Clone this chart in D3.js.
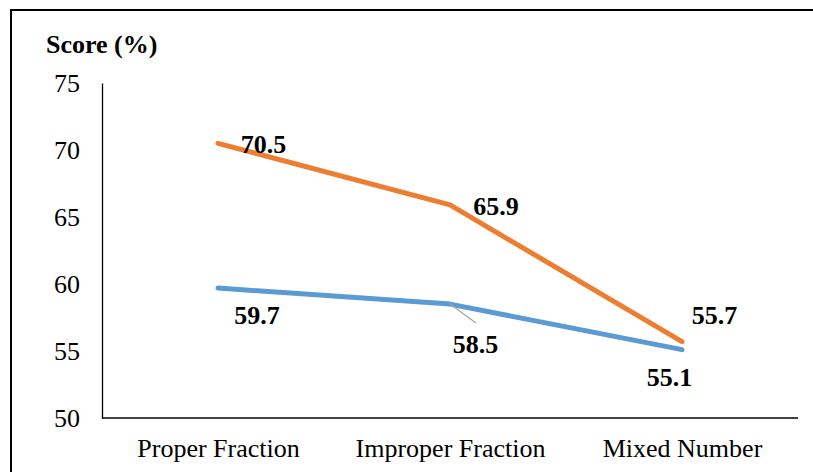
<!DOCTYPE html>
<html><head><meta charset="utf-8">
<script src="https://cdn.jsdelivr.net/npm/d3@7"></script>
<style>body{margin:0;background:#fff}svg{display:block}</style>
</head><body>
<svg id="c" width="813" height="472"></svg>
<script>
const categories = ["Proper Fraction", "Improper Fraction", "Mixed Number"];
const orangeValues = [70.5, 65.9, 55.7];
const blueValues = [59.7, 58.5, 55.1];
const yTicks = [50, 55, 60, 65, 70, 75];

(function () {
const FONT = "'Liberation Serif', Tinos, 'Times New Roman', Times, 'DejaVu Serif', serif";
const svg = d3.select("#c").style("font-family", FONT);
const mLeft = 102, mRight = 798, mTop = 83, mBottom = 418;
const x = d3.scalePoint().domain(categories).range([mLeft, mRight]).padding(0.5);
const y = d3.scaleLinear().domain([50, 75]).range([mBottom, mTop]);

svg.append("rect").attr("x", 11).attr("y", 10).attr("width", 820).attr("height", 480)
  .attr("fill", "none").attr("stroke", "#000").attr("stroke-width", 2);

svg.append("text").attr("x", 46).attr("y", 53).attr("font-size", 26).attr("font-weight", "bold")
  .style("font-family", FONT).text("Score (%)");

const ya = svg.append("g").attr("transform", `translate(${mLeft},0)`)
  .call(d3.axisLeft(y).tickValues(yTicks).tickSize(0).tickPadding(22));
ya.attr("font-family", null);
ya.select(".domain").attr("stroke", "#000").attr("stroke-width", 1.3);
ya.selectAll("text").attr("font-size", 26).attr("fill", "#000").style("font-family", FONT);

const xa = svg.append("g").attr("transform", `translate(0,${mBottom})`)
  .call(d3.axisBottom(x).tickSize(0).tickPadding(21));
xa.attr("font-family", null);
xa.select(".domain").attr("d", `M${mLeft},0H${mRight}`).attr("stroke", "#000").attr("stroke-width", 1.3);
xa.selectAll("text").attr("font-size", 26).attr("fill", "#000").style("font-family", FONT);

const line = d3.line().x((d, i) => x(categories[i])).y(d => y(d));
svg.append("path").datum(blueValues).attr("d", line).attr("fill", "none")
  .attr("stroke", "#5B9BD5").attr("stroke-width", 5).attr("stroke-linecap", "round").attr("stroke-linejoin", "round");
svg.append("path").datum(orangeValues).attr("d", line).attr("fill", "none")
  .attr("stroke", "#ED7D31").attr("stroke-width", 5).attr("stroke-linecap", "round").attr("stroke-linejoin", "round");

svg.append("line").attr("x1", x(categories[1])).attr("y1", y(blueValues[1]))
  .attr("x2", x(categories[1]) + 26).attr("y2", y(blueValues[1]) + 19)
  .attr("stroke", "#A5A5A5").attr("stroke-width", 1.3);

const orangeOff = [[45.5, 10], [46, 10], [32.5, -17.5]];
const blueOff = [[39, 36], [25.5, 49], [-12.5, 36.3]];
function labels(vals, offs) {
  svg.append("g").selectAll("text").data(vals).join("text")
    .attr("x", (d, i) => x(categories[i]) + offs[i][0])
    .attr("y", (d, i) => y(d) + offs[i][1])
    .attr("text-anchor", "middle")
    .attr("font-size", 26).attr("font-weight", "bold").attr("fill", "#000")
    .style("font-family", FONT)
    .text(d => d.toFixed(1));
}
labels(orangeValues, orangeOff);
labels(blueValues, blueOff);
})();
</script>
</body></html>
